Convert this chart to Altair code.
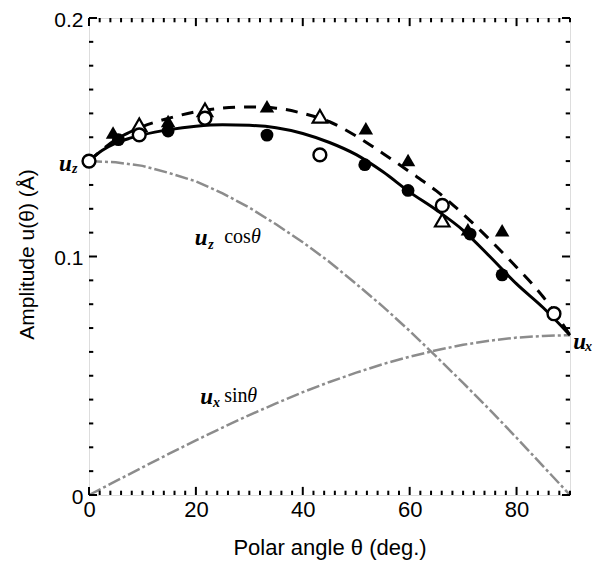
import altair as alt
import pandas as pd

# ---------------- data ----------------
grid_theta = [0, 5, 10, 15, 20, 25, 30, 35, 40, 45, 50, 55, 60, 65, 70, 75, 80, 85, 90]
uz_cos = [0.140, 0.1395, 0.138, 0.135, 0.1315, 0.1265, 0.1205, 0.1135, 0.106, 0.0977,
          0.0885, 0.079, 0.0688, 0.058, 0.047, 0.0357, 0.024, 0.012, 0.0]
ux_sin = [0.0, 0.0058, 0.0116, 0.0173, 0.0229, 0.0283, 0.0335, 0.0384, 0.0431, 0.0474,
          0.0513, 0.0549, 0.058, 0.0607, 0.063, 0.0647, 0.066, 0.0667, 0.067]

fit_theta = [0, 2.5, 5, 7.5, 10, 15, 20, 25, 30, 35, 40, 45, 50, 55, 60, 65, 70, 75, 80, 85, 90]
fit_solid = [0.140, 0.1445, 0.1475, 0.1495, 0.151, 0.1532, 0.1546, 0.1552, 0.1550, 0.1540,
             0.1516, 0.1478, 0.1427, 0.1355, 0.1270, 0.1195, 0.1110, 0.1000, 0.0885, 0.0785, 0.067]
fit_dashed = [0.140, 0.1448, 0.149, 0.152, 0.1545, 0.158, 0.1607, 0.1622, 0.1627, 0.1622,
              0.160, 0.1565, 0.1505, 0.1432, 0.1355, 0.1275, 0.1178, 0.107, 0.0955, 0.083, 0.067]

filled_circle_theta = [5.5, 14.8, 33.3, 51.6, 59.7, 71.3, 77.3]
filled_circle_u = [0.149, 0.1526, 0.1509, 0.1385, 0.1277, 0.1094, 0.0923]
open_circle_theta = [0, 9.4, 21.7, 43.2, 66.1, 87.0]
open_circle_u = [0.140, 0.151, 0.158, 0.1426, 0.1214, 0.0760]
filled_tri_theta = [4.5, 14.8, 33.3, 51.8, 59.7, 70.9, 77.3]
filled_tri_u = [0.152, 0.1568, 0.163, 0.1538, 0.1405, 0.1114, 0.111]
open_tri_theta = [9.4, 21.7, 43.2, 66.1]
open_tri_u = [0.1552, 0.1615, 0.1588, 0.1152]

x_major_ticks = [0, 20, 40, 60, 80]
x_minor_ticks = [v for v in range(0, 91, 2) if v % 20 != 0]
y_major_ticks = [0.0, 0.1, 0.2]
y_minor_ticks = [i / 100 for i in range(0, 21) if i % 10 != 0]

# annotation pieces: (text, theta, u)
ann_u = [("u", -5.6, 0.1389), ("u", 90.6, 0.0640), ("u", 19.8, 0.1077), ("u", 20.8, 0.0412)]
ann_sub = [("z", -3.2, 0.1366), ("x", 92.8, 0.0622), ("z", 22.3, 0.1050), ("x", 23.2, 0.0384)]
ann_fn = [("cos", 25.3, 0.1081), ("sin", 25.3, 0.0416)]
ann_th = [("θ", 30.3, 0.1081), ("θ", 29.6, 0.0416)]

# ---------------- build chart ----------------
XDOM = [0, 90]
YDOM = [0, 0.2]
xscale = alt.Scale(domain=XDOM, nice=False, zero=False)
yscale = alt.Scale(domain=YDOM, nice=False, zero=False)

LABEL_FONT = "Liberation Sans Narrow, Liberation Sans, Arial"

x_axis = alt.Axis(values=x_major_ticks, labelFlush=False, domain=False, ticks=False, tickSize=0,
                  grid=False, labelFont=LABEL_FONT, labelFontSize=22, labelColor="black",
                  labelPadding=4, title="Polar angle θ (deg.)", titleFont=LABEL_FONT,
                  titleFontSize=22, titleFontWeight="normal", titleColor="black",
                  titleY=52, titleBaseline="middle")
y_axis = alt.Axis(values=y_major_ticks, labelExpr="datum.value == 0 ? '0' : format(datum.value, '.1f')",
                  domain=False, ticks=False, tickSize=0, grid=False, labelFont=LABEL_FONT,
                  labelFontSize=21, labelColor="black", labelPadding=6, labelOffset=2,
                  title="Amplitude u(θ) (Å)", titleFont=LABEL_FONT, titleFontSize=21,
                  titleFontWeight="normal", titleColor="black", titleX=-62, titleY=236,
                  titleAngle=270, titleAlign="center", titleBaseline="middle")


def X():
    return alt.X("theta:Q", scale=xscale, axis=x_axis)


def Y():
    return alt.Y("u:Q", scale=yscale, axis=y_axis)


gray_cos = pd.DataFrame({"theta": grid_theta, "u": uz_cos})
gray_sin = pd.DataFrame({"theta": grid_theta, "u": ux_sin})
solid = pd.DataFrame({"theta": fit_theta, "u": fit_solid})
dashed = pd.DataFrame({"theta": fit_theta, "u": fit_dashed})

GRAY = "#8c8c8c"
layers = []
layers.append(alt.Chart(gray_cos).mark_line(color=GRAY, strokeWidth=2.5, strokeDash=[13, 3, 3, 3])
              .encode(x=X(), y=Y()))
layers.append(alt.Chart(gray_sin).mark_line(color=GRAY, strokeWidth=2.5, strokeDash=[13, 3, 3, 3])
              .encode(x=X(), y=Y()))
layers.append(alt.Chart(solid).mark_line(color="black", strokeWidth=3, interpolate="monotone")
              .encode(x=X(), y=Y()))
layers.append(alt.Chart(dashed).mark_line(color="black", strokeWidth=3, strokeDash=[12, 9],
                                          interpolate="monotone")
              .encode(x=X(), y=Y()))

# ticks (inward), positions through the scales
TX_MAJ, TX_MIN = 0.0034, 0.0018   # tick length along y (data units)
TY_MAJ, TY_MIN = 1.5, 0.8         # tick length along x (data units)
xt_rows = []
for v in x_major_ticks:
    xt_rows += [{"theta": v, "u": 0.0, "u2": TX_MAJ}, {"theta": v, "u": 0.2, "u2": 0.2 - TX_MAJ}]
for v in x_minor_ticks:
    xt_rows += [{"theta": v, "u": 0.0, "u2": TX_MIN}, {"theta": v, "u": 0.2, "u2": 0.2 - TX_MIN}]
yt_rows = []
for v in y_major_ticks:
    yt_rows += [{"u": v, "theta": 0, "theta2": TY_MAJ}, {"u": v, "theta": 90, "theta2": 90 - TY_MAJ}]
for v in y_minor_ticks:
    yt_rows += [{"u": v, "theta": 0, "theta2": TY_MIN}, {"u": v, "theta": 90, "theta2": 90 - TY_MIN}]
layers.append(alt.Chart(pd.DataFrame(xt_rows)).mark_rule(color="black", strokeWidth=2)
              .encode(x=X(), y=Y(), y2="u2:Q"))
layers.append(alt.Chart(pd.DataFrame(yt_rows)).mark_rule(color="black", strokeWidth=2)
              .encode(x=X(), x2="theta2:Q", y=Y()))

# markers
layers.append(alt.Chart(pd.DataFrame({"theta": filled_tri_theta, "u": filled_tri_u}))
              .mark_point(shape="triangle-up", filled=True, color="black", size=210, opacity=1)
              .encode(x=X(), y=Y()))
layers.append(alt.Chart(pd.DataFrame({"theta": open_tri_theta, "u": open_tri_u}))
              .mark_point(shape="triangle-up", filled=True, fill="white", stroke="black",
                          strokeWidth=2.2, size=210, opacity=1)
              .encode(x=X(), y=Y()))
layers.append(alt.Chart(pd.DataFrame({"theta": filled_circle_theta, "u": filled_circle_u}))
              .mark_point(shape="circle", filled=True, color="black", size=165, opacity=1)
              .encode(x=X(), y=Y()))
layers.append(alt.Chart(pd.DataFrame({"theta": open_circle_theta, "u": open_circle_u}))
              .mark_point(shape="circle", filled=True, fill="white", stroke="black",
                          strokeWidth=2.4, size=165, opacity=1)
              .encode(x=X(), y=Y()))

SERIF = "Liberation Serif"


def ann_layer(rows, size, style, weight, font=SERIF):
    df = pd.DataFrame(rows, columns=["txt", "theta", "u"])
    return (alt.Chart(df).mark_text(align="left", baseline="middle", font=font, fontSize=size,
                                    fontStyle=style, fontWeight=weight, color="black")
            .encode(x=X(), y=Y(), text="txt:N"))


layers.append(ann_layer(ann_u, 23, "italic", "bold"))
layers.append(ann_layer(ann_sub, 14, "italic", "bold"))
layers.append(ann_layer(ann_fn, 20, "normal", "normal"))
layers.append(ann_layer(ann_th, 20, "italic", "normal"))

chart = (alt.layer(*layers)
         .properties(width=481, height=477,
                     autosize=alt.AutoSizeParams(type="none"),
                     padding={"left": 81, "top": 10, "right": 27, "bottom": 65})
         .configure_view(stroke="black", strokeWidth=2)
         .configure(background="white"))

chart.save("out.html", embed_options={"renderer": "svg", "actions": False})
